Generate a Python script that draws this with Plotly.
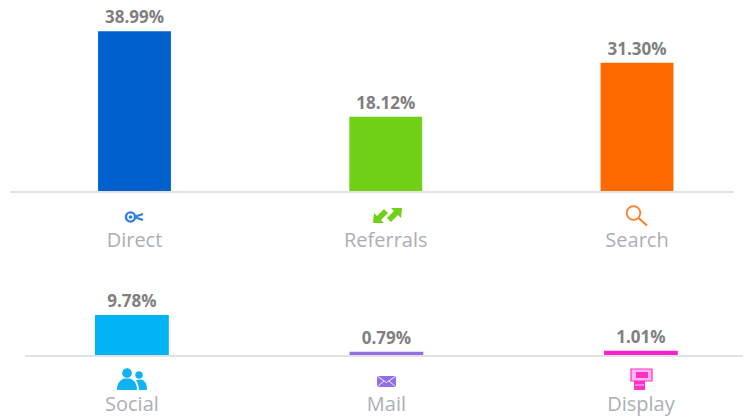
import plotly.graph_objects as go
from plotly.subplots import make_subplots
import re

W, H = 750, 417

top_categories = ["Direct", "Referrals", "Search"]
top_values = [38.99, 18.12, 31.30]
top_colors = ["#0060CC", "#6FD016", "#FF6A00"]

bottom_categories = ["Social", "Mail", "Display"]
bottom_values = [9.78, 0.79, 1.01]
bottom_colors = ["#00B4F5", "#9170E6", "#FF22CC"]

LABEL_COLOR = "#808080"
TICK_COLOR = "#ABAFB5"
AXIS_COLOR = "#E2E2E2"


def px_path(d):
    """Turn an SVG path written in page pixels into paper coordinates."""
    toks = re.findall(r"[MLCQZ]|-?\d+\.?\d*", d)
    out, is_x = [], True
    for t in toks:
        if t.isalpha():
            out.append(t)
            is_x = True
        else:
            v = float(t)
            out.append(f"{v / W:.5f}" if is_x else f"{1 - v / H:.5f}")
            is_x = not is_x
    return " ".join(out)


def circle(cx, cy, r):
    k = 0.5523 * r
    return (f"M {cx-r} {cy} C {cx-r} {cy-k} {cx-k} {cy-r} {cx} {cy-r} "
            f"C {cx+k} {cy-r} {cx+r} {cy-k} {cx+r} {cy} "
            f"C {cx+r} {cy+k} {cx+k} {cy+r} {cx} {cy+r} "
            f"C {cx-k} {cy+r} {cx-r} {cy+k} {cx-r} {cy} Z")


def icon(d, fill=None, line=None, width=0):
    return dict(type="path", xref="paper", yref="paper", layer="above", path=px_path(d),
                fillcolor=fill or "rgba(0,0,0,0)",
                line=dict(color=line or "rgba(0,0,0,0)", width=width))


fig = make_subplots(rows=2, cols=1)
fig.add_trace(go.Bar(x=top_categories, y=top_values, marker=dict(color=top_colors, line_width=0),
                     text=[f"{v:.2f}%" for v in top_values], textposition="outside",
                     cliponaxis=False, hoverinfo="skip"), row=1, col=1)
fig.add_trace(go.Bar(x=bottom_categories, y=bottom_values, marker=dict(color=bottom_colors, line_width=0),
                     text=[f"{v:.2f}%" for v in bottom_values], textposition="outside",
                     cliponaxis=False, hoverinfo="skip"), row=2, col=1)

fig.update_traces(textfont=dict(family="Open Sans", size=17, color=LABEL_COLOR, weight=700),
                  textangle=0, constraintext="none")

x_common = dict(showgrid=False, zeroline=False, showline=True, linecolor=AXIS_COLOR, linewidth=1.5,
                ticks="outside", ticklen=30, tickcolor="rgba(0,0,0,0)", tickwidth=1,
                tickfont=dict(family="Open Sans", size=20, color=TICK_COLOR), tickangle=0)
y_common = dict(visible=False, showgrid=False, zeroline=False)

fig.update_xaxes(x_common)
fig.update_yaxes(y_common)
fig.update_xaxes(row=1, col=1, domain=[10 / W, 734 / W], range=[-0.4955, 2.386])
fig.update_xaxes(row=2, col=1, domain=[25 / W, 743 / W], range=[-0.42, 2.401])
fig.update_yaxes(row=1, col=1, domain=[1 - 191 / H, 1], range=[0, 191 / 4.1])
fig.update_yaxes(row=2, col=1, domain=[1 - 355 / H, 1 - 295 / H], range=[0, 60 / 4.1])

BLUE, GREEN, ORANGE = "#2F7FE0", "#6FD016", "#FF7F2A"
SKY, PURPLE, PINK = "#0FB2F2", "#9170E6", "#FF2FC8"

shapes = [
    # Direct
    icon(circle(130.5, 217, 4.6), line=BLUE, width=2.4),
    icon(circle(130.5, 217, 1.8), fill=BLUE),
    icon("M 134 217 L 143 214 M 134 217 L 143 220", line=BLUE, width=2.2),
    # Referrals
    icon("M 373 223 L 374 213 L 377 216 L 384 209 L 388 213 L 381 220 L 384 223 Z", fill=GREEN),
    icon("M 402 208 L 401 218 L 398 215 L 391 222 L 387 218 L 394 211 L 391 208 Z", fill=GREEN),
    # Search
    icon(circle(633.5, 213, 6.8), line=ORANGE, width=1.8),
    icon("M 638.5 218 L 647 225.5", line=ORANGE, width=2),
    # Social
    icon(circle(127, 373, 4.8), fill=SKY),
    icon("M 117 390 C 117 382 121 380 124 378.5 L 130 378.5 C 133 380 137 382 137 390 Z", fill=SKY),
    icon(circle(139, 375, 3.8), fill=SKY),
    icon("M 139 390 C 139 385 137 382 136 380 L 142 379.5 C 145 381 147 384 147 390 Z", fill=SKY),
    # Mail
    icon("M 377 376 L 396 376 L 396 387 L 377 387 Z", fill=PURPLE),
    icon("M 377 376 L 386.5 382.5 L 396 376 M 377 387 L 384 381 M 396 387 L 389 381",
         line="#FFFFFF", width=0.9),
    # Display
    icon("M 631 369 L 652 369 L 652 381 L 631 381 Z", fill="#FFB8EC", line=PINK, width=1.2),
    icon("M 636 372 L 648 372 L 648 378 L 636 378 Z", fill=PINK),
    icon("M 634 381 L 645 381 L 645 390 L 634 390 Z", fill=PINK),
    icon("M 635 385 L 644 385", line="#FFD0F2", width=1),
]

fig.update_layout(
    width=W, height=H, margin=dict(l=0, r=0, t=0, b=0, autoexpand=False),
    plot_bgcolor="white", paper_bgcolor="white", showlegend=False,
    bargap=0.71, shapes=shapes, uniformtext=dict(mode=False),
)

fig.write_html("out.html", config=dict(displayModeBar=False),
               post_script="document.body.style.margin='0';")
